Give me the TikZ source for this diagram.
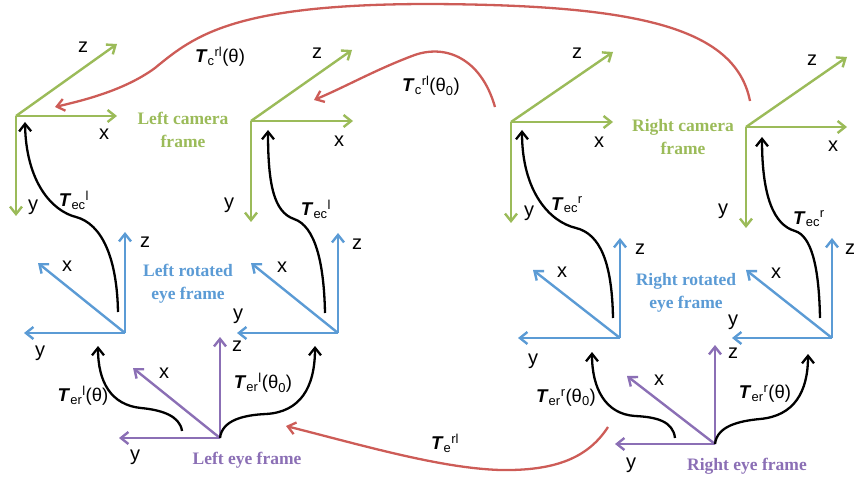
\documentclass[tikz,border=0pt]{standalone}
\usepackage{fontspec}
\setmainfont{Liberation Sans}
\newfontfamily\framefont{Liberation Serif}
\usetikzlibrary{arrows.meta}
\definecolor{cgreen}{HTML}{9BBB59}
\definecolor{cblue}{HTML}{5B9BD5}
\definecolor{cpurple}{HTML}{8B6FB5}
\definecolor{cred}{HTML}{CD5C57}
\newcommand{\TT}{\textbf{\textit{T}}}
\begin{document}
\begin{tikzpicture}[x=1pt,y=-1pt,
  tip/.style={-{Straight Barb[length=7.5pt,width=12pt]}},
  axis/.style={line width=2.4pt,tip},
  cam/.style={axis,cgreen},
  rot/.style={axis,cblue},
  eye/.style={axis,cpurple},
  tf/.style={line width=2.3pt,black,tip},
  rel/.style={line width=2.3pt,cred,tip},
  lab/.style={font=\fontsize{20}{22}\selectfont,inner sep=0pt},
  tlab/.style={font=\fontsize{18.5}{20}\selectfont,inner sep=0pt},
  fname/.style={font=\framefont\bfseries\fontsize{17.5}{23}\selectfont,align=center,inner sep=0pt}]
\useasboundingbox (0,0) rectangle (855,484);

% ---------- camera frames (green) ----------
\coordinate (LC1) at (16,116);  \coordinate (LC1x) at (117,116); \coordinate (LC1y) at (16,216);  \coordinate (LC1z) at (117,44);
\coordinate (LC2) at (251,121); \coordinate (LC2x) at (353,121); \coordinate (LC2y) at (251,222); \coordinate (LC2z) at (352,50);
\coordinate (RC1) at (511,122); \coordinate (RC1x) at (613,122); \coordinate (RC1y) at (511,223); \coordinate (RC1z) at (613,52);
\coordinate (RC2) at (746,127); \coordinate (RC2x) at (847,127); \coordinate (RC2y) at (746,228); \coordinate (RC2z) at (847,57);
\foreach \f in {LC1,LC2,RC1,RC2}{
  \draw[cam] (\f) -- (\f x);
  \draw[cam] (\f) -- (\f y);
  \draw[cam] (\f) -- (\f z);
}
\node[lab] (lc1zl) at (83,47) {z};  \node[lab] (lc1xl) at (104,134) {x}; \node[lab] (lc1yl) at (33,207) {y};
\node[lab] (lc2zl) at (317,53) {z}; \node[lab] (lc2xl) at (339,141) {x}; \node[lab] (lc2yl) at (229,205) {y};
\node[lab] (rc1zl) at (577,53) {z}; \node[lab] (rc1xl) at (599,142) {x}; \node[lab] (rc1yl) at (529,213) {y};
\node[lab] (rc2zl) at (812,60) {z}; \node[lab] (rc2xl) at (833,146) {x}; \node[lab] (rc2yl) at (723,211) {y};
\node[fname,text=cgreen] (lcf) at (183,130) {Left camera\\frame};
\node[fname,text=cgreen] (rcf) at (683,137) {Right camera\\frame};

% ---------- rotated eye frames (blue) ----------
\coordinate (LR1) at (125,333); \coordinate (LR1x) at (38,263);  \coordinate (LR1y) at (24,333);  \coordinate (LR1z) at (125,232);
\coordinate (LR2) at (338,333); \coordinate (LR2x) at (251,263); \coordinate (LR2y) at (237,333); \coordinate (LR2z) at (338,233);
\coordinate (RR1) at (620,338); \coordinate (RR1x) at (533,270); \coordinate (RR1y) at (518,338); \coordinate (RR1z) at (620,238);
\coordinate (RR2) at (832,338); \coordinate (RR2x) at (746,270); \coordinate (RR2y) at (732,338); \coordinate (RR2z) at (832,238);
\foreach \f in {LR1,LR2,RR1,RR2}{
  \draw[rot] (\f) -- (\f x);
  \draw[rot] (\f) -- (\f y);
  \draw[rot] (\f) -- (\f z);
}
\node[lab] (lr1zl) at (145,242) {z}; \node[lab] (lr1xl) at (67,266) {x};  \node[lab] (lr1yl) at (40,353) {y};
\node[lab] (lr2zl) at (357,244) {z}; \node[lab] (lr2xl) at (282,267) {x}; \node[lab] (lr2yl) at (238,316) {y};
\node[lab] (rr1zl) at (640,249) {z}; \node[lab] (rr1xl) at (562,272) {x}; \node[lab] (rr1yl) at (533,361) {y};
\node[lab] (rr2zl) at (850,249) {z}; \node[lab] (rr2xl) at (776,273) {x}; \node[lab] (rr2yl) at (733,322) {y};
\node[fname,text=cblue] (lrf) at (188,284) {Left rotated\\eye frame};
\node[fname,text=cblue] (rrf) at (686,293) {Right rotated\\eye frame};

% ---------- eye frames (purple) ----------
\coordinate (LE) at (220,438); \coordinate (LEx) at (133,368); \coordinate (LEy) at (119,438); \coordinate (LEz) at (220,337);
\coordinate (RE) at (715,444); \coordinate (REx) at (627,376); \coordinate (REy) at (615,444); \coordinate (REz) at (715,345);
\foreach \f in {LE,RE}{
  \draw[eye] (\f) -- (\f x);
  \draw[eye] (\f) -- (\f y);
  \draw[eye] (\f) -- (\f z);
}
\node[lab] (lezl) at (237,346) {z}; \node[lab] (lexl) at (164,373) {x}; \node[lab] (leyl) at (135,457) {y};
\node[lab] (rezl) at (733,353) {z}; \node[lab] (rexl) at (659,380) {x}; \node[lab] (reyl) at (631,465) {y};
\node[fname,text=cpurple] (lef) at (247,460) {Left eye frame};
\node[fname,text=cpurple] (ref) at (747,466) {Right eye frame};

% ---------- black transforms ----------
\coordinate (a1s) at (118,312); \coordinate (a1e) at (25,122);
\draw[tf] (a1s) .. controls (117,258) and (102,224) .. (76,217) .. controls (52,211) and (26,182) .. (a1e);
\coordinate (a2s) at (325,313); \coordinate (a2e) at (268,130);
\draw[tf] (a2s) .. controls (324,262) and (315,226) .. (294,219) .. controls (274,212) and (268,185) .. (a2e);
\coordinate (a3s) at (613,318); \coordinate (a3e) at (522,130);
\draw[tf] (a3s) .. controls (612,262) and (600,234) .. (576,228) .. controls (550,222) and (522,192) .. (a3e);
\coordinate (a4s) at (820,318); \coordinate (a4e) at (762,137);
\draw[tf] (a4s) .. controls (819,265) and (811,236) .. (795,231) .. controls (774,225) and (762,197) .. (a4e);

\coordinate (b1s) at (182,431); \coordinate (b1e) at (98,346);
\draw[tf] (b1s) .. controls (180,416) and (162,410) .. (141,408) .. controls (111,405) and (98,382) .. (b1e);
\coordinate (b2e) at (315,346);
\draw[tf] (LE) .. controls (222,420) and (244,415) .. (266,414) .. controls (300,412) and (315,388) .. (b2e);
\coordinate (b3s) at (675,438); \coordinate (b3e) at (592,352);
\draw[tf] (b3s) .. controls (673,421) and (656,417) .. (635,416) .. controls (605,414) and (592,388) .. (b3e);
\coordinate (b4e) at (808,354);
\draw[tf] (RE) .. controls (717,426) and (739,421) .. (760,419) .. controls (794,416) and (808,392) .. (b4e);

\node[tlab] (t1) at (74,200) {\TT\textsubscript{ec}\textsuperscript{l}};
\node[tlab] (t2) at (316,209) {\TT\textsubscript{ec}\textsuperscript{l}};
\node[tlab] (t3) at (567,205) {\TT\textsubscript{ec}\textsuperscript{r}};
\node[tlab] (t4) at (809,219) {\TT\textsubscript{ec}\textsuperscript{r}};
\node[tlab] (t5) at (83,396) {\TT\textsubscript{er}\textsuperscript{l}(θ)};
\node[tlab] (t6) at (263,383) {\TT\textsubscript{er}\textsuperscript{l}(θ\textsubscript{0})};
\node[tlab] (t7) at (566,398) {\TT\textsubscript{er}\textsuperscript{r}(θ\textsubscript{0})};
\node[tlab] (t8) at (765,394) {\TT\textsubscript{er}\textsuperscript{r}(θ)};

% ---------- red relative transforms ----------
\coordinate (r1s) at (750,101); \coordinate (r1e) at (55,107);
\draw[rel] (r1s) .. controls (735,25) and (630,5) .. (430,4) .. controls (235,4) and (195,35) .. (155,68) .. controls (125,90) and (85,100) .. (r1e);
\coordinate (r2s) at (495,107); \coordinate (r2e) at (314,100);
\draw[rel] (r2s) .. controls (481,58) and (445,43) .. (412,56) .. controls (375,70) and (345,87) .. (r2e);
\coordinate (r3s) at (608,427); \coordinate (r3e) at (286,426);
\draw[rel] (r3s) .. controls (588,458) and (555,471) .. (500,470) .. controls (440,468) and (365,446) .. (r3e);

\node[tlab] (t9) at (220,57) {\TT\textsubscript{c}\textsuperscript{rl}(θ)};
\node[tlab] (t10) at (431,86) {\TT\textsubscript{c}\textsuperscript{rl}(θ\textsubscript{0})};
\node[tlab] (t11) at (445,443) {\TT\textsubscript{e}\textsuperscript{rl}};
\end{tikzpicture}
\end{document}
